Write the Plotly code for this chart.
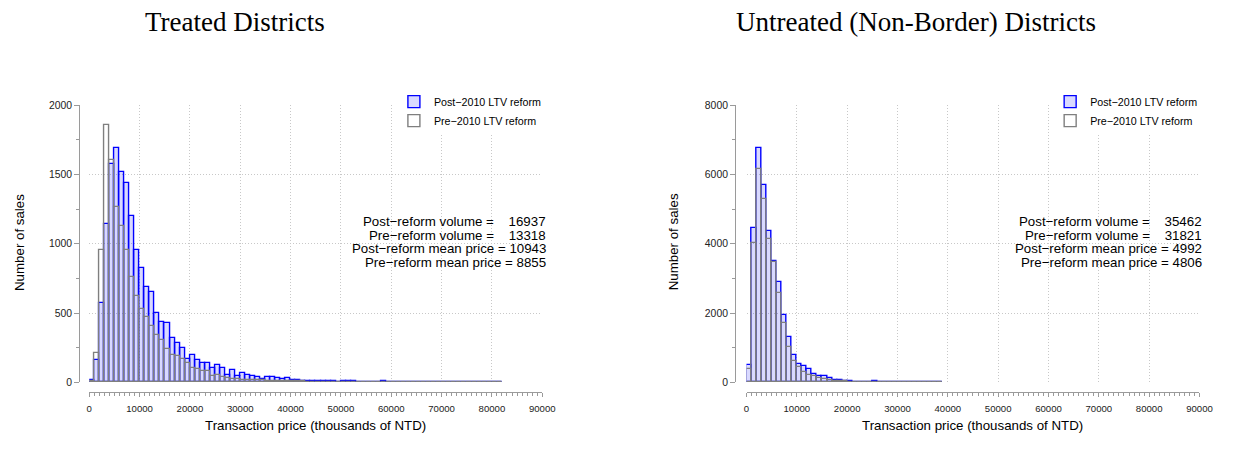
import plotly.graph_objects as go

# ---------------- data (counts per 1000-thousand-NTD price bin) ----------------
bin_width = 1000

treated_post = [15, 164, 570, 1144, 1578, 1693, 1519, 1440, 1200, 954,
                821, 685, 652, 497, 434, 430, 323, 285, 250, 171,
                194, 161, 140, 136, 101, 122, 101, 51, 89, 47,
                70, 56, 44, 42, 21, 37, 37, 28, 23, 28,
                19, 16, 9, 9, 7, 10, 9, 8, 7, 6,
                12, 7, 10, 5, 5, 4, 4, 5, 7, 6,
                4, 3, 4, 3, 5, 3, 3, 2, 3, 2,
                2, 3, 4, 2, 2, 1, 0, 1, 2, 1,
                1, 1]
treated_pre = [10, 211, 957, 1857, 1606, 1266, 1125, 957, 762, 621,
               532, 474, 403, 338, 305, 239, 199, 192, 168, 140,
               100, 94, 82, 82, 47, 51, 40, 33, 23, 23,
               19, 19, 16, 14, 14, 12, 12, 10, 10, 8,
               8, 7, 7, 6, 6, 5, 5, 5, 4, 4,
               4, 4, 3, 3, 3, 3, 3, 2, 2, 2,
               2, 2, 2, 2, 1, 2, 1, 1, 2, 1,
               1, 1, 1, 1, 1, 1, 0, 1, 1, 1,
               1, 1]
untreated_post = [507, 4456, 6754, 5704, 4353, 3499, 2908, 1942, 1304, 797,
                  535, 469, 394, 235, 169, 178, 131, 66, 66, 38,
                  38, 19, 19, 15, 12, 25, 10, 8, 7, 6,
                  5, 5, 4, 4, 3, 3, 3, 2, 2]
untreated_pre = [375, 4006, 6144, 5281, 4128, 3471, 2580, 1712, 1032, 610,
                 430, 300, 225, 188, 113, 94, 75, 50, 40, 28,
                 19, 15, 12, 10, 8, 7, 6, 5, 4, 4,
                 3, 3, 3, 2, 2, 2, 2, 1, 1]

stats_treated = ["Post\u2212reform volume =\u00a0\u00a0\u00a0 16937",
                 "Pre\u2212reform volume =\u00a0\u00a0\u00a0 13318",
                 "Post\u2212reform mean price = 10943",
                 "Pre\u2212reform mean price = 8855"]
stats_untreated = ["Post\u2212reform volume =\u00a0\u00a0\u00a0 35462",
                   "Pre\u2212reform volume =\u00a0\u00a0\u00a0 31821",
                   "Post\u2212reform mean price = 4992",
                   "Pre\u2212reform mean price = 4806"]
panel_titles = ["Treated Districts", "Untreated (Non-Border) Districts"]
legend_names = ["Post\u22122010 LTV reform", "Pre\u22122010 LTV reform"]
x_title = "Transaction price (thousands of NTD)"
y_title = "Number of sales"

# ---------------- layout helpers ----------------
# The page body keeps the browser's default 8px margin, so the figure is
# sized to fill the 1233x453 window exactly and positions are given in
# window pixels (minus that margin).
PAGE_MARGIN = 8
W, H = 1233 - 2 * PAGE_MARGIN, 453 - 2 * PAGE_MARGIN
def px(x):
    return (x - PAGE_MARGIN) / W
def py(y):
    return 1 - (y - PAGE_MARGIN) / H

SANS = "Liberation Sans, Arial, sans-serif"
SERIF = "Liberation Serif, Times New Roman, serif"
AXIS_GRAY = "#9a9a9a"
GRID = "#c8c8c8"
BLUE_FILL = "rgba(0,0,255,0.15)"

def centers(n):
    return [bin_width * (i + 0.5) for i in range(n)]

fig = go.Figure()

panels = [
    dict(post=treated_post, pre=treated_pre, xa="x", ya="y", legend="legend"),
    dict(post=untreated_post, pre=untreated_pre, xa="x2", ya="y2", legend="legend2"),
]
for p in panels:
    fig.add_trace(go.Bar(x=centers(len(p["post"])), y=p["post"], width=bin_width,
                         name=legend_names[0], xaxis=p["xa"], yaxis=p["ya"],
                         marker=dict(color=BLUE_FILL, line=dict(color="blue", width=1.4)),
                         legend=p["legend"], hoverinfo="skip"))
    fig.add_trace(go.Bar(x=centers(len(p["pre"])), y=p["pre"], width=bin_width,
                         name=legend_names[1], xaxis=p["xa"], yaxis=p["ya"],
                         marker=dict(color="rgba(255,255,255,0)", line=dict(color="#7f7f7f", width=1.4)),
                         legend=p["legend"], hoverinfo="skip"))

def xaxis_cfg(x0, x1):
    return dict(domain=[px(x0), px(x1)], range=[0, 90000], anchor="free", position=py(397),
                showline=True, linecolor=AXIS_GRAY, linewidth=1,
                ticks="outside", ticklen=4, tickcolor=AXIS_GRAY, tickwidth=1,
                tick0=0, dtick=10000, tickformat="d", ticklabelstandoff=3,
                minor=dict(dtick=1000, ticks="outside", ticklen=2.5, tickcolor=AXIS_GRAY, showgrid=False),
                showgrid=True, gridcolor=GRID, griddash="1px,2px", gridwidth=1,
                zeroline=False, tickfont=dict(family=SANS, size=9.6, color="#222"),
                fixedrange=True)

def yaxis_cfg(xline, ymax, dtick, minor):
    return dict(domain=[py(387), py(102.5)], range=[0, ymax], anchor="free", position=px(xline),
                showline=True, linecolor=AXIS_GRAY, linewidth=1,
                ticks="outside", ticklen=5, tickcolor=AXIS_GRAY, tickwidth=1,
                tick0=0, dtick=dtick, tickformat="d",
                minor=dict(dtick=minor, ticks="outside", ticklen=2.7, tickcolor=AXIS_GRAY, showgrid=False),
                showgrid=True, gridcolor=GRID, griddash="1px,2px", gridwidth=1,
                zeroline=False, tickfont=dict(family=SANS, size=10.4, color="#222"),
                fixedrange=True)

ann = []
# panel titles (baseline ~26px from the window top)
for title, cx in zip(panel_titles, [235, 925.5]):
    ann.append(dict(text=title, x=px(cx), y=py(17.5), xref="paper", yref="paper",
                    xanchor="center", yanchor="middle", showarrow=False,
                    font=dict(family=SERIF, size=27, color="black")))
# stats
for lines, rx in [(stats_treated, 552), (stats_untreated, 1217)]:
    for i, line in enumerate(lines):
        ann.append(dict(text=line, x=px(rx), y=py(222 + 14 * i), xref="paper", yref="paper",
                        xanchor="right", yanchor="middle", showarrow=False,
                        font=dict(family=SANS, size=13.3, color="black")))
# axis titles
for cx in [317, 982.5]:
    ann.append(dict(text=x_title, x=px(cx), y=py(431.5),
                    xref="paper", yref="paper", xanchor="center", yanchor="middle",
                    showarrow=False, font=dict(family=SANS, size=13.3, color="black")))
for cx in [16, 679]:
    ann.append(dict(text=y_title, x=px(cx), y=py(243), textangle=-90,
                    xref="paper", yref="paper", xanchor="center", yanchor="middle",
                    showarrow=False, font=dict(family=SANS, size=13.3, color="black")))

legend_common = dict(xanchor="left", yanchor="top", bgcolor="white", borderwidth=0,
                     font=dict(family=SANS, size=10.7, color="black"), tracegroupgap=0)

fig.update_layout(
    width=W, height=H, autosize=False,
    margin=dict(l=0, r=0, t=0, b=0),
    paper_bgcolor="white", plot_bgcolor="white",
    barmode="overlay", bargap=0,
    xaxis=xaxis_cfg(87.3, 546.3),
    yaxis=yaxis_cfg(77, 2000, 500, 250),
    xaxis2=xaxis_cfg(753.3, 1212.3),
    yaxis2=yaxis_cfg(741.7, 8000, 2000, 1000),
    legend=dict(x=px(396), y=py(84), **legend_common),
    legend2=dict(x=px(1061), y=py(84), **legend_common),
    annotations=ann,
    showlegend=True,
)

fig.write_html("out.html", config={"displayModeBar": False})
